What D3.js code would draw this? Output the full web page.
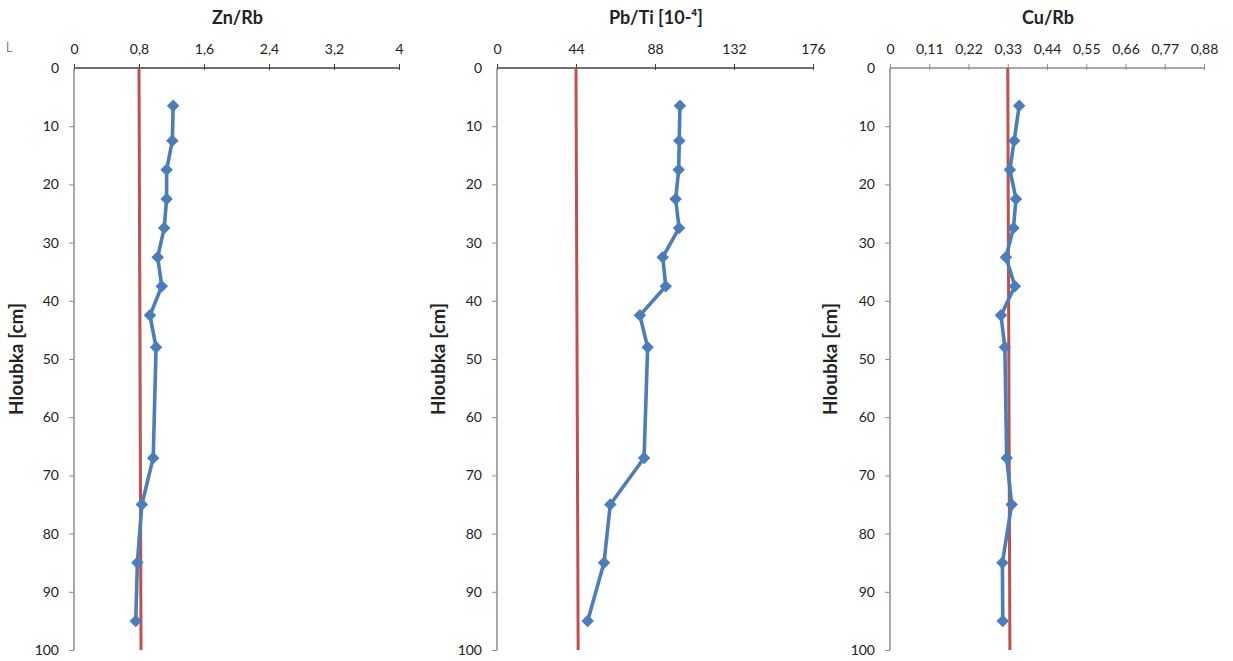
<!DOCTYPE html>
<html><head><meta charset="utf-8">
<script src="https://cdn.jsdelivr.net/npm/d3@7/dist/d3.min.js"></script>
<style>body{margin:0;background:#fff}svg text{font-family:Lato,"Open Sans",sans-serif}</style>
</head><body><svg id="c" width="1233" height="661"></svg>
<script>
const depths = [6.5, 12.5, 17.5, 22.5, 27.5, 32.5, 37.5, 42.5, 48, 67, 75, 85, 95];
const znRb = [1.22, 1.21, 1.14, 1.14, 1.11, 1.03, 1.08, 0.935, 1.01, 0.975, 0.835, 0.78, 0.76];
const pbTi = [101.9, 101.5, 101.2, 99.5, 101.4, 92.3, 94, 79.6, 83.9, 81.9, 63.1, 59.6, 50.5];
const cuRb = [0.362, 0.348, 0.336, 0.353, 0.346, 0.325, 0.35, 0.311, 0.322, 0.327, 0.341, 0.315, 0.316];
const refZn = [0.8, 0.825];
const refPb = [44, 45.2];
const refCu = [0.33, 0.336];
const refDepth = [0, 100];
const znTicks = [0, 0.8, 1.6, 2.4, 3.2, 4];
const pbTicks = [0, 44, 88, 132, 176];
const cuTicks = [0, 0.11, 0.22, 0.33, 0.44, 0.55, 0.66, 0.77, 0.88];
const depthTicks = [0,10,20,30,40,50,60,70,80,90,100];
const titles = ["Zn/Rb", "Pb/Ti [10-⁴]", "Cu/Rb"];
const yTitle = "Hloubka [cm]";

const panels = [
  {title: titles[0], vals: znRb, ref: refZn, ticks: znTicks, x0: 74, x1: 399, axisColor: "#404040", ytx: 17},
  {title: titles[1], vals: pbTi, ref: refPb, ticks: pbTicks, x0: 497, x1: 813, axisColor: "#404040", ytx: 439},
  {title: titles[2], vals: cuRb, ref: refCu, ticks: cuTicks, x0: 890, x1: 1204, axisColor: "#8c8c8c", ytx: 831}
];
const svg = d3.select("#c");
const y = d3.scaleLinear().domain([0, 100]).range([68, 650]);
const comma = s => String(s).replace(".", ",");
const blue = "#4a7ebb", red = "#c0504d";

panels.forEach(p => {
  const x = d3.scaleLinear().domain([p.ticks[0], p.ticks[p.ticks.length-1]]).range([p.x0, p.x1]);
  const g = svg.append("g");
  g.append("text").attr("x", (p.x0 + p.x1)/2 + 1).attr("y", 24).attr("text-anchor", "middle")
    .attr("font-size", 18).attr("font-weight", "bold").attr("fill", "#222").text(p.title);
  const xa = d3.axisTop(x).tickValues(p.ticks).tickSize(4).tickFormat(d => comma(d));
  const ga = g.append("g").attr("transform", `translate(0,${y(0)})`).call(xa);
  ga.select(".domain").attr("stroke", p.axisColor).attr("stroke-width", 1.3).attr("d", `M${p.x0},0H${p.x1}`);
  ga.selectAll(".tick line").attr("stroke", p.axisColor).attr("y1", 2);
  ga.selectAll(".tick text").attr("font-size", 14).attr("fill", "#222").attr("y", -14).attr("font-family", "Lato,sans-serif");
  const ya = d3.axisLeft(y).tickValues(depthTicks).tickSize(5);
  const gy = g.append("g").attr("transform", `translate(${p.x0},0)`).call(ya);
  gy.select(".domain").attr("stroke", "#8c8c8c").attr("stroke-width", 1.5).attr("d", `M0,${y(0)}V${y(100)}`);
  gy.selectAll(".tick line").attr("stroke", "#8c8c8c");
  gy.selectAll(".tick text").attr("font-size", 14).attr("fill", "#222").attr("x", -15).attr("font-family", "Lato,sans-serif");
  gy.selectAll(".tick").filter(d => d === 0).select("line").remove();
  g.append("text").attr("transform", `translate(${p.ytx + 6},${359}) rotate(-90)`).attr("text-anchor", "middle")
    .attr("font-size", 19).attr("font-weight", "bold").attr("fill", "#222").text(yTitle);
  const refData = p.ref.map((v, i) => [v, refDepth[i]]);
  g.append("path").datum(refData).attr("fill", "none").attr("stroke", red).attr("stroke-width", 3)
    .attr("d", d3.line().x(d => x(d[0])).y(d => y(d[1])));
  const data = p.vals.map((v, i) => [v, depths[i]]);
  g.append("path").datum(data).attr("fill", "none").attr("stroke", blue).attr("stroke-width", 3.6)
    .attr("stroke-linejoin", "round").attr("d", d3.line().x(d => x(d[0])).y(d => y(d[1])));
  g.selectAll("path.m").data(data).join("path").attr("class", "m")
    .attr("transform", d => `translate(${x(d[0])},${y(d[1])})`)
    .attr("d", d3.symbol(d3.symbolDiamond2, 100)).attr("fill", blue);
});
svg.append("text").attr("x", 6).attr("y", 52).attr("font-size", 13).attr("fill", "#222").attr("font-family", "Lato,sans-serif").attr("font-weight", 300).text("L");
</script></body></html>
